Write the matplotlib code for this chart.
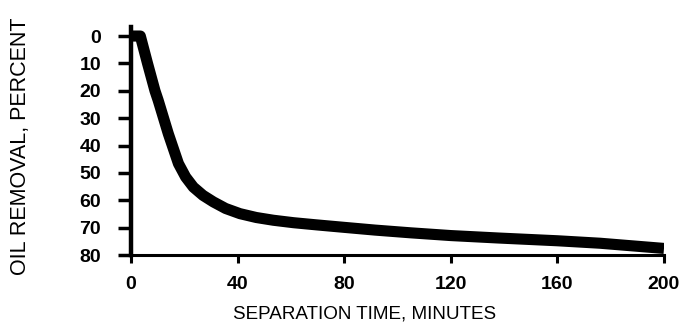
import matplotlib
matplotlib.use("Agg")
import matplotlib.pyplot as plt

# separation time (minutes) vs oil removal (percent)
time_min = [0.5, 3.5, 6.2, 9, 10.2, 14, 17.8, 20.5, 23.4, 27, 30.9, 35.5, 40.9, 47,
            53.4, 61, 69.7, 80, 91.6, 105, 120, 138, 160, 176, 200]
removal = [0, 0, 10, 20, 23.5, 35.7, 46.6, 51.5, 55.2, 58.2, 60.6, 63, 64.9, 66.3,
           67.3, 68.2, 69, 69.9, 70.9, 71.9, 72.9, 73.8, 74.8, 75.7, 77.6]

xticks = [0, 40, 80, 120, 160, 200]
yticks = [0, 10, 20, 30, 40, 50, 60, 70, 80]

plt.rcParams['font.family'] = ['Liberation Sans', 'DejaVu Sans']

fig = plt.figure(figsize=(6.85, 3.27), dpi=100)
ax = fig.add_axes([131/685, 1 - 255/327, 533/685, 228/327])

ax.plot(time_min, removal, color="black", linewidth=8, solid_capstyle="butt", solid_joinstyle="round")

ax.set_xlim(0, 200)
ax.set_ylim(80, -3.3)
ax.set_xticks(xticks)
ax.set_yticks(yticks)
ax.set_xticklabels([str(v) for v in xticks], fontsize=14, fontweight="bold")
ax.set_yticklabels([str(v) for v in yticks], fontsize=14, fontweight="bold")

ax.spines["top"].set_visible(False)
ax.spines["right"].set_visible(False)
ax.spines["left"].set_linewidth(3.2)
ax.spines["bottom"].set_linewidth(2.2)
ax.tick_params(axis="y", direction="out", length=9.5, width=2.5, pad=12)
ax.tick_params(axis="x", direction="out", length=6, width=2.2, pad=9)

fig.text(365/685, 1 - 314/327, "SEPARATION TIME, MINUTES", ha="center", va="center", fontsize=13.6)
fig.text(21/685, 1 - 146/327, "OIL REMOVAL, PERCENT", ha="center", va="center", rotation=90, fontsize=15.5)

fig.savefig("out.png", dpi=100)
